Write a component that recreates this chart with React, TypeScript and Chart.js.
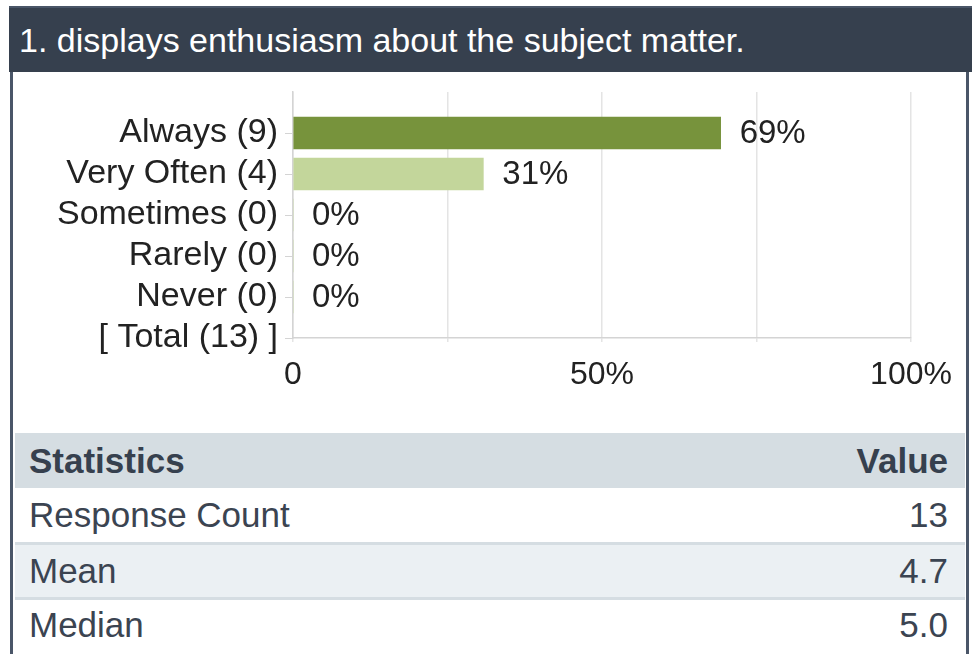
import React, { useEffect, useRef } from "react";
import { Chart, registerables } from "chart.js";

Chart.register(...registerables);

const TITLE = "1. displays enthusiasm about the subject matter.";
const categories = ["", "Always (9)", "Very Often (4)", "Sometimes (0)", "Rarely (0)", "Never (0)", "[ Total (13) ]"];
const percentValues: (number | null)[] = [null, 69.2, 30.8, 0, 0, 0, null];
const percentLabels = ["", "69%", "31%", "0%", "0%", "0%", ""];
const barColors = ["#77933c", "#77933c", "#c3d69b", "#c3d69b", "#c3d69b", "#c3d69b", "#c3d69b"];
const xTickLabels: Record<number, string> = { 0: "0", 50: "50%", 100: "100%" };
const statHeaders = ["Statistics", "Value"];
const statNames = ["Response Count", "Mean", "Median"];
const statValues = ["13", "4.7", "5.0"];

const FONT = '"Liberation Sans", Arial, Helvetica, sans-serif';

const valueLabelPlugin = {
  id: "valueLabels",
  afterDatasetsDraw(chart: any) {
    const { ctx } = chart;
    const meta = chart.getDatasetMeta(0);
    ctx.save();
    ctx.font = `33px ${FONT}`;
    ctx.fillStyle = "#222222";
    ctx.textAlign = "left";
    ctx.textBaseline = "middle";
    meta.data.forEach((bar: any, i: number) => {
      const label = percentLabels[i];
      if (!label || percentValues[i] === null) return;
      ctx.fillText(label, bar.x + 19, bar.y + 1);
    });
    ctx.restore();
  },
};

function BarChart() {
  const ref = useRef<HTMLCanvasElement | null>(null);
  useEffect(() => {
    if (!ref.current) return;
    const chart = new Chart(ref.current, {
      type: "bar",
      data: {
        labels: categories,
        datasets: [
          {
            data: percentValues as any,
            backgroundColor: barColors,
            borderWidth: 0,
            barThickness: 32,
          },
        ],
      },
      options: {
        indexAxis: "y",
        responsive: false,
        maintainAspectRatio: false,
        animation: false,
        layout: { padding: { left: 0, right: 55, top: 20, bottom: 0 } },
        plugins: { legend: { display: false }, tooltip: { enabled: false } },
        scales: {
          x: {
            type: "linear",
            min: 0,
            max: 100,
            position: "bottom",
            afterFit: (scale: any) => {
              scale.height = 84;
            },
            grid: {
              color: "#e4e4e4",
              lineWidth: 1.5,
              drawTicks: true,
              tickLength: 4,
            },
            border: { display: true, color: "#d4d4d4", width: 1.5 },
            ticks: {
              stepSize: 25,
              autoSkip: false,
              maxRotation: 0,
              padding: 14,
              color: "#222222",
              font: { family: FONT, size: 32 },
              callback: (v: any) => xTickLabels[Number(v)] ?? "",
            },
          },
          y: {
            type: "category",
            offset: false,
            afterFit: (scale: any) => {
              scale.width = 280;
              scale.paddingTop = 0;
              scale.paddingBottom = 0;
            },
            grid: {
              offset: false,
              drawOnChartArea: false,
              drawTicks: true,
              tickLength: 8,
              color: (c: any) => (c.index === 0 ? "rgba(0,0,0,0)" : "#d4d4d4"),
            },
            border: { display: true, color: "#d4d4d4", width: 1.5 },
            ticks: {
              autoSkip: false,
              padding: 7,
              color: "#222222",
              font: { family: FONT, size: 34 },
            },
          },
        },
      },
      plugins: [valueLabelPlugin],
    } as any);
    return () => chart.destroy();
  }, []);
  return (
    <canvas
      ref={ref}
      width={953}
      height={350}
      style={{ position: "absolute", left: 13, top: 72, width: 953, height: 350 }}
    />
  );
}

export default function App() {
  const rowStyle = (bg: string, top: number, height: number): React.CSSProperties => ({
    position: "absolute",
    left: 15,
    width: 950,
    top,
    height,
    background: bg,
    display: "flex",
    alignItems: "center",
    justifyContent: "space-between",
    padding: "0 17px 0 14px",
    boxSizing: "border-box",
    fontSize: 35,
    color: "#3b4451",
  });
  const rows = [
    { bg: "#ffffff", top: 488, height: 54 },
    { bg: "#ebf0f3", top: 545, height: 52 },
    { bg: "#ffffff", top: 600, height: 50 },
  ];
  return (
    <div
      style={{
        position: "absolute",
        left: 0,
        top: 0,
        width: 972,
        height: 654,
        overflow: "hidden",
        background: "#ffffff",
        fontFamily: FONT,
      }}
    >
      <div
        style={{
          position: "absolute",
          left: 9,
          top: 6,
          width: 963,
          height: 66,
          background: "#36404e",
          borderTop: "2px solid #4a5668",
          boxSizing: "border-box",
          display: "flex",
          alignItems: "center",
          paddingLeft: 10,
          color: "#ffffff",
          fontSize: 34,
          whiteSpace: "nowrap",
        }}
      >
        {TITLE}
      </div>
      <div style={{ position: "absolute", left: 10, top: 72, width: 3, height: 582, background: "#4a5668" }} />
      <div style={{ position: "absolute", left: 966, top: 72, width: 3, height: 582, background: "#4a5668" }} />
      <BarChart />
      <div
        style={{
          ...rowStyle("#d5dde2", 433, 55),
          fontWeight: "bold",
          color: "#36404e",
        }}
      >
        <span>{statHeaders[0]}</span>
        <span>{statHeaders[1]}</span>
      </div>
      {statNames.map((name, i) => (
        <div key={name} style={rowStyle(rows[i].bg, rows[i].top, rows[i].height)}>
          <span>{name}</span>
          <span>{statValues[i]}</span>
        </div>
      ))}
      <div style={{ position: "absolute", left: 15, width: 950, top: 542, height: 3, background: "#d5dde2" }} />
      <div style={{ position: "absolute", left: 15, width: 950, top: 597, height: 3, background: "#d5dde2" }} />
    </div>
  );
}
